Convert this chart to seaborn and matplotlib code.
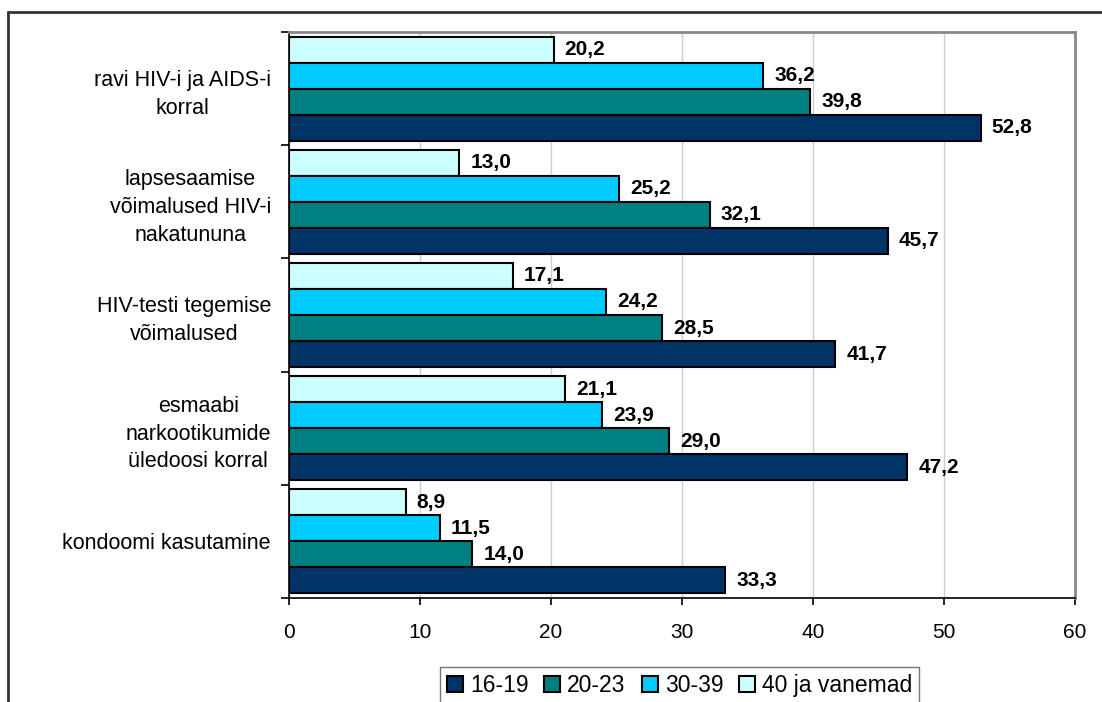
import pandas as pd
import numpy as np
import matplotlib.pyplot as plt
import matplotlib.lines as mlines
import matplotlib.patches as mpatches
import seaborn as sns

# Andmed (loetud jooniselt)
teemad = [
    'ravi HIV-i ja AIDS-i\nkorral',
    'lapsesaamise\nvõimalused HIV-i\nnakatununa',
    'HIV-testi tegemise\nvõimalused',
    'esmaabi\nnarkootikumide\nüledoosi korral',
    'kondoomi kasutamine',
]
vanus_16_19 = [52.8, 45.7, 41.7, 47.2, 33.3]
vanus_20_23 = [39.8, 32.1, 28.5, 29.0, 14.0]
vanus_30_39 = [36.2, 25.2, 24.2, 23.9, 11.5]
vanus_40 = [20.2, 13.0, 17.1, 21.1, 8.9]

vanuserühmad = ['16-19', '20-23', '30-39', '40 ja vanemad']
varvid = {'16-19': '#003366', '20-23': '#008080', '30-39': '#00CCFF', '40 ja vanemad': '#CCFFFF'}

df = pd.DataFrame({
    'teema': teemad * 4,
    'grupp': [g for g in vanuserühmad for _ in teemad],
    'protsent': vanus_16_19 + vanus_20_23 + vanus_30_39 + vanus_40,
})

sns.set_style('white')
plt.rcParams['font.family'] = ['Liberation Sans', 'DejaVu Sans']
plt.rcParams['text.color'] = 'black'
plt.rcParams['xtick.color'] = 'black'
plt.rcParams['ytick.color'] = 'black'
FS = 15

fig = plt.figure(figsize=(11.02, 7.02), dpi=100)
ax = fig.add_axes([289 / 1102, 1 - 598 / 702, (1075 - 289) / 1102, (598 - 32) / 702])

# hue järjekord ülevalt alla: heledaim üleval
sns.barplot(data=df, y='teema', x='protsent', hue='grupp', order=teemad,
            hue_order=vanuserühmad[::-1], palette=varvid, orient='h',
            width=0.92, edgecolor='black', linewidth=1.5, ax=ax, legend=False,
            saturation=1)

# väärtuste sildid
for cont in ax.containers:
    ax.bar_label(cont, labels=[f'{v:.1f}'.replace('.', ',') for v in cont.datavalues],
                 padding=8, fontsize=FS, fontweight='bold', color='black')

ax.set_xlim(0, 60)
ax.set_ylim(4.5, -0.5)
ax.set_xticks(np.arange(0, 61, 10))
ax.tick_params(axis='x', labelsize=FS, length=5, width=1.2, direction='out', pad=13, bottom=True)
ax.tick_params(axis='y', which='major', length=0, labelsize=15.5, pad=13)
ax.set_yticks(np.arange(-0.5, 5, 1), minor=True)
ax.tick_params(axis='y', which='minor', length=6, width=1.2, left=True)
for lbl in ax.get_yticklabels():
    lbl.set_multialignment('center')
    lbl.set_linespacing(1.42)
ax.set_xlabel('')
ax.set_ylabel('')
ax.grid(axis='x', color='#cccccc', linewidth=1)
ax.set_axisbelow(True)

for s in ['top', 'right']:
    ax.spines[s].set_color('#888888')
    ax.spines[s].set_linewidth(2)
for s in ['left', 'bottom']:
    ax.spines[s].set_color('black')
    ax.spines[s].set_linewidth(1.2)

# legend
kasted = [mpatches.Patch(facecolor=varvid[g], edgecolor='black', linewidth=1.5, label=g)
          for g in vanuserühmad]
fig.legend(handles=kasted, loc='upper left', bbox_to_anchor=(440 / 1102, 1 - 667 / 702),
           ncol=4, frameon=True, fancybox=False, edgecolor='#555555', fontsize=16.5,
           handlelength=0.7, handleheight=0.7, handletextpad=0.3, columnspacing=0.7,
           borderpad=0.3, borderaxespad=0)

# välimine raam (ülemine ja vasak serv)
fig.add_artist(mlines.Line2D([8 / 1102, 1.0], [1 - 12 / 702, 1 - 12 / 702], color='#333333', linewidth=2))
fig.add_artist(mlines.Line2D([8 / 1102, 8 / 1102], [0.0, 1 - 12 / 702], color='#333333', linewidth=2))

fig.savefig('out.png', dpi=100)
